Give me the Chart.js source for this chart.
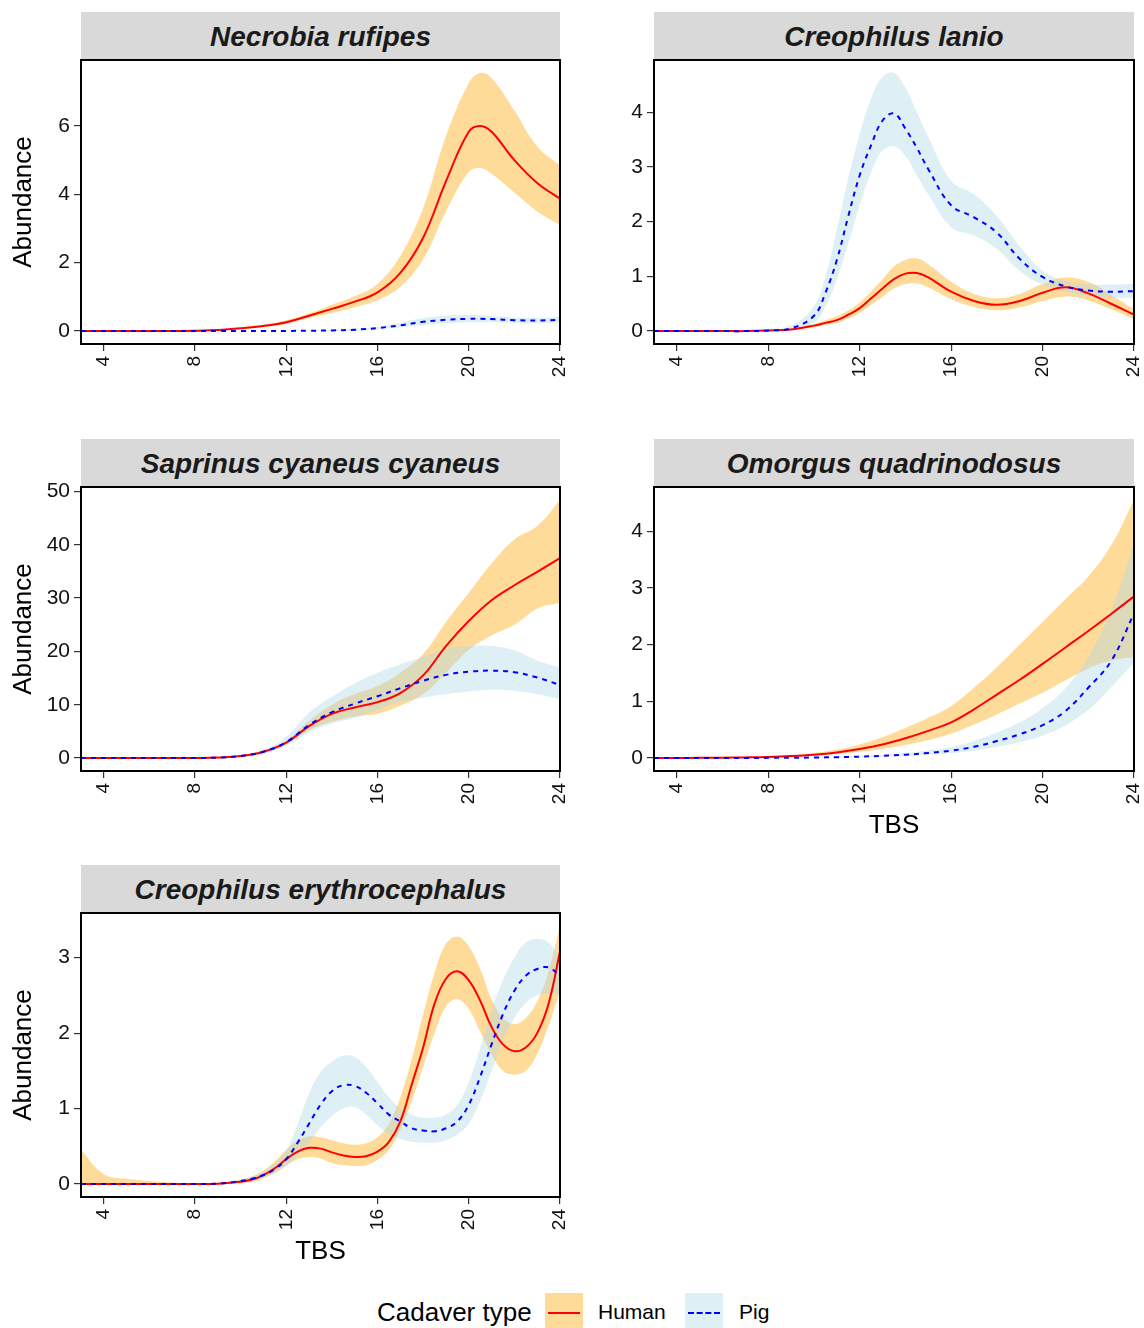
<!DOCTYPE html>
<html>
<head>
<meta charset="utf-8">
<script src="https://cdn.jsdelivr.net/npm/chart.js@4.4.1/dist/chart.umd.min.js"></script>
<style>
  body { margin: 0; background: #fff; font-family: "Liberation Sans", Arial, sans-serif; }
  #page { position: relative; width: 1144px; height: 1328px; overflow: hidden; background: #fff; }
  .strip { position: absolute; background: #d9d9d9; color: #1a1a1a; font-weight: bold; font-style: italic;
           font-size: 28px; display: flex; align-items: center; justify-content: center; padding-top: 2px; box-sizing: border-box; }
  .panel { position: absolute; }
  .lg-text { position: absolute; color: #000; white-space: nowrap; }
  .lg-key { position: absolute; width: 38px; height: 40px; }
  .lg-key span { position: absolute; left: 3px; right: 3px; top: 19px; height: 0; }
</style>
</head>
<body>
<div id="page"></div>
<script>
// shared axis ticks
const xTicks = [4, 8, 12, 16, 20, 24];

// Necrobia rufipes
const necrobiaX = [3,4,5,6,7,8,9,10,11,12,13,14,15,16,17,18,19,20,20.5,21,22,23,24];
const necrobiaHuman = [0,0,0,0,0.005,0.01,0.03,0.08,0.15,0.26,0.45,0.65,0.86,1.13,1.7,2.73,4.38,5.83,6.0,5.83,5.0,4.33,3.87];
const necrobiaHumanHi = [0,0,0,0,0.005,0.015,0.04,0.1,0.19,0.32,0.52,0.77,1.02,1.38,2.2,3.6,5.7,7.25,7.55,7.4,6.45,5.4,4.85];
const necrobiaHumanLo = [0,0,0,0,0.005,0.008,0.02,0.06,0.12,0.21,0.38,0.53,0.7,0.9,1.3,2.1,3.5,4.65,4.77,4.6,4.05,3.5,3.1];
const necrobiaPig = [0,0,0,0,0,0,0,0,0,0.005,0.01,0.02,0.04,0.09,0.17,0.27,0.33,0.36,0.36,0.35,0.32,0.31,0.33];
const necrobiaPigHi = [0,0,0,0,0,0,0,0,0,0.01,0.02,0.04,0.07,0.13,0.24,0.38,0.45,0.47,0.46,0.44,0.4,0.39,0.42];
const necrobiaPigLo = [0,0,0,0,0,0,0,0,0,0,0,0.005,0.02,0.05,0.11,0.18,0.23,0.26,0.26,0.26,0.24,0.23,0.25];
const necrobiaYTicks = [0, 2, 4, 6];

// Creophilus lanio
const lanioX = [3,4,5,6,7,8,9,10,10.5,11,11.5,12,12.5,13,13.5,14,14.5,15,16,17,18,19,20,21,22,23,24];
const lanioHuman = [0,0,0,0,0,0.01,0.03,0.1,0.15,0.2,0.3,0.42,0.6,0.78,0.95,1.05,1.06,0.98,0.72,0.55,0.48,0.55,0.7,0.8,0.69,0.5,0.3];
const lanioHumanHi = [0,0,0,0,0,0.015,0.04,0.13,0.2,0.27,0.38,0.52,0.73,0.95,1.18,1.3,1.33,1.22,0.9,0.68,0.6,0.68,0.86,0.98,0.9,0.66,0.4];
const lanioHumanLo = [0,0,0,0,0,0.005,0.02,0.07,0.11,0.15,0.23,0.33,0.48,0.63,0.78,0.86,0.87,0.8,0.58,0.44,0.38,0.43,0.55,0.63,0.56,0.4,0.22];
const lanioPig = [0,0,0,0,0,0.01,0.05,0.28,0.7,1.3,2.1,2.85,3.4,3.85,3.98,3.7,3.35,2.96,2.3,2.08,1.8,1.32,0.99,0.82,0.74,0.72,0.73];
const lanioPigHi = [0,0,0,0,0.005,0.02,0.1,0.45,1.0,1.85,2.8,3.6,4.25,4.65,4.72,4.45,4.0,3.55,2.75,2.5,2.1,1.55,1.1,0.92,0.85,0.85,0.86];
const lanioPigLo = [0,0,0,0,0,0.005,0.02,0.15,0.45,0.95,1.6,2.3,2.9,3.3,3.38,3.2,2.85,2.5,1.9,1.75,1.5,1.1,0.85,0.72,0.64,0.61,0.61];
const lanioYTicks = [0, 1, 2, 3, 4];

// Saprinus cyaneus cyaneus
const saprinusX = [3,4,5,6,7,8,9,10,11,12,13,14,15,16,17,18,19,20,21,22,23,24];
const saprinusHuman = [0,0,0,0,0,0.02,0.1,0.4,1.2,2.9,6,8.3,9.5,10.5,12.2,15.5,21,25.7,29.6,32.4,34.9,37.5];
const saprinusHumanHi = [0,0,0,0,0,0.03,0.15,0.5,1.4,3.3,7,10,12,13.5,16,19.5,25.5,31,36.5,41,43.5,48.4];
const saprinusHumanLo = [0,0,0,0,0,0.01,0.06,0.3,1.0,2.6,5.2,6.8,7.8,8.3,9.8,12,16,20.3,23,25,28,29.1];
const saprinusPig = [0,0,0,0,0,0.02,0.1,0.4,1.2,3.0,6.2,8.6,10.2,11.6,13.1,14.5,15.6,16.2,16.4,16.1,15.1,13.7];
const saprinusPigHi = [0,0,0,0,0,0.03,0.15,0.55,1.6,4.0,8.5,11.5,14,16,17.6,19,20.5,21,21,20.2,18.3,17];
const saprinusPigLo = [0,0,0,0,0,0.01,0.05,0.25,0.8,2.3,4.8,6.5,7.5,9,10.5,11.3,12,12.5,12.8,12.6,12,11];
const saprinusYTicks = [0, 10, 20, 30, 40, 50];

// Omorgus quadrinodosus
const omorgusX = [3,4,5,6,7,8,9,10,11,12,13,14,15,16,17,18,19,20,21,22,23,24];
const omorgusHuman = [0,0.002,0.004,0.007,0.012,0.02,0.035,0.06,0.1,0.16,0.24,0.35,0.48,0.63,0.86,1.12,1.38,1.66,1.95,2.24,2.54,2.85];
const omorgusHumanHi = [0,0.003,0.006,0.01,0.018,0.03,0.05,0.09,0.15,0.24,0.37,0.53,0.71,0.92,1.24,1.6,2.0,2.4,2.8,3.2,3.75,4.55];
const omorgusHumanLo = [0,0.001,0.002,0.004,0.007,0.012,0.022,0.04,0.07,0.11,0.16,0.23,0.32,0.43,0.59,0.77,0.96,1.15,1.37,1.58,1.72,1.78];
const omorgusPig = [0,0,0,0,0.002,0.004,0.006,0.01,0.016,0.025,0.04,0.06,0.09,0.13,0.2,0.3,0.42,0.58,0.83,1.24,1.71,2.55];
const omorgusPigHi = [0,0,0,0,0.003,0.006,0.01,0.016,0.025,0.04,0.06,0.09,0.14,0.19,0.3,0.45,0.63,0.88,1.23,1.78,2.6,3.8];
const omorgusPigLo = [0,0,0,0,0.001,0.002,0.003,0.005,0.009,0.015,0.025,0.04,0.06,0.09,0.13,0.2,0.28,0.4,0.58,0.85,1.25,1.68];
const omorgusYTicks = [0, 1, 2, 3, 4];

// Creophilus erythrocephalus
const erythroX = [3,4,5,6,7,8,9,10,10.5,11,11.5,12,12.5,13,13.5,14,14.5,15,15.5,16,16.5,17,17.5,18,18.5,19,19.5,20,20.5,21,21.5,22,22.5,23,23.5,24];
const erythroHuman = [0,0,0,0,0,0,0.005,0.03,0.06,0.12,0.21,0.33,0.43,0.48,0.47,0.42,0.38,0.36,0.37,0.43,0.56,0.83,1.32,1.81,2.39,2.72,2.82,2.7,2.43,2.08,1.85,1.76,1.81,2.0,2.39,3.08];
const erythroHumanHi = [0.45,0.13,0.07,0.04,0.02,0.012,0.01,0.06,0.1,0.18,0.3,0.45,0.58,0.63,0.62,0.58,0.54,0.52,0.54,0.62,0.8,1.15,1.65,2.25,2.8,3.18,3.28,3.15,2.85,2.45,2.2,2.12,2.2,2.42,2.82,3.42];
const erythroHumanLo = [0,0,0,0,0,0,0,0.01,0.03,0.08,0.15,0.25,0.33,0.36,0.34,0.28,0.25,0.24,0.25,0.32,0.45,0.72,1.1,1.55,2.0,2.35,2.45,2.32,2.02,1.72,1.5,1.45,1.5,1.72,2.1,2.55];
const erythroPig = [0,0,0,0,0,0,0.005,0.04,0.07,0.12,0.2,0.33,0.55,0.8,1.05,1.23,1.31,1.3,1.21,1.07,0.92,0.83,0.74,0.71,0.7,0.74,0.83,1.05,1.42,1.85,2.25,2.56,2.76,2.85,2.87,2.76];
const erythroPigHi = [0,0,0,0,0,0,0.01,0.06,0.1,0.17,0.28,0.45,0.8,1.2,1.48,1.62,1.7,1.68,1.55,1.35,1.15,1.0,0.92,0.88,0.88,0.92,1.05,1.35,1.8,2.3,2.7,3.0,3.2,3.25,3.2,3.0];
const erythroPigLo = [0,0,0,0,0,0,0,0.02,0.04,0.08,0.14,0.24,0.38,0.55,0.75,0.9,1.0,1.02,0.92,0.78,0.66,0.6,0.56,0.55,0.55,0.58,0.66,0.8,1.1,1.5,1.9,2.2,2.4,2.5,2.52,2.5];
const erythroYTicks = [0, 1, 2, 3];

const HUMAN_LINE = "#ff0000";
const PIG_LINE = "#0000ff";
const HUMAN_FILL = "rgba(255,165,0,0.4)";
const PIG_FILL = "rgba(173,216,230,0.4)";
const FONT = "'Liberation Sans', Arial, sans-serif";

const page = document.getElementById("page");

const boxPlugin = {
  id: "panelBox",
  afterDatasetsDraw(chart) {
    const { ctx, chartArea: a } = chart;
    ctx.save();
    ctx.strokeStyle = "#000";
    ctx.lineWidth = 2;
    ctx.strokeRect(a.left, a.top, a.right - a.left, a.bottom - a.top);
    ctx.restore();
  },
};

const pts = (xs, ys) => xs.map((x, i) => ({ x: x, y: ys[i] }));

function addPanel(p) {
  // grey strip with the species name
  const strip = document.createElement("div");
  strip.className = "strip";
  strip.style.left = p.boxLeft + "px";
  strip.style.top = (p.boxTop - 48) + "px";
  strip.style.width = p.boxWidth + "px";
  strip.style.height = "47px";
  strip.textContent = p.title;
  page.appendChild(strip);

  const xh = p.xTitle ? 72 : 40;
  const canvas = document.createElement("canvas");
  canvas.className = "panel";
  canvas.width = 570;
  canvas.height = 10 + 284 + xh;
  canvas.style.left = p.canvasLeft + "px";
  canvas.style.top = (p.boxTop - 10) + "px";
  page.appendChild(canvas);

  const maxHi = Math.max(...p.humanHi, ...p.pigHi);
  const titleFont = { family: FONT, size: 26 };
  const grid = { display: true, drawOnChartArea: false, drawTicks: true, tickLength: 7, color: "#333", lineWidth: 1.2 };

  new Chart(canvas, {
    type: "line",
    data: {
      datasets: [
        { data: pts(p.x, p.pig), borderColor: PIG_LINE, borderWidth: 2, borderDash: [5, 5], fill: false },
        { data: pts(p.x, p.human), borderColor: HUMAN_LINE, borderWidth: 2, fill: false },
        { data: pts(p.x, p.pigHi), borderWidth: 0, backgroundColor: PIG_FILL, fill: 3 },
        { data: pts(p.x, p.pigLo), borderWidth: 0, fill: false },
        { data: pts(p.x, p.humanHi), borderWidth: 0, backgroundColor: HUMAN_FILL, fill: 5 },
        { data: pts(p.x, p.humanLo), borderWidth: 0, fill: false },
      ],
    },
    options: {
      responsive: false,
      animation: false,
      devicePixelRatio: 1,
      layout: { padding: { top: 10, right: 10, left: 0, bottom: 0 } },
      elements: { point: { radius: 0 }, line: { tension: 0.4 } },
      plugins: { legend: { display: false }, tooltip: { enabled: false } },
      scales: {
        x: {
          type: "linear",
          min: 3,
          max: 24,
          afterBuildTicks: (s) => { s.ticks = xTicks.map((v) => ({ value: v })); },
          afterFit: (s) => { s.height = xh; s.paddingLeft = 0; s.paddingRight = 0; },
          ticks: { minRotation: 90, maxRotation: 90, padding: 5, font: { family: FONT, size: 19 }, color: "#111" },
          grid: grid,
          border: { display: false },
          title: { display: !!p.xTitle, text: "TBS", font: titleFont, color: "#000", padding: { top: 0, bottom: 2 } },
        },
        y: {
          type: "linear",
          min: -0.05 * maxHi,
          max: 1.05 * maxHi,
          afterBuildTicks: (s) => { s.ticks = p.yTicks.map((v) => ({ value: v })); },
          afterFit: (s) => { s.width = p.yWidth; s.paddingTop = 0; s.paddingBottom = 0; },
          ticks: { padding: 4, font: { family: FONT, size: 21 }, color: "#111" },
          grid: grid,
          border: { display: false },
          title: { display: !!p.yTitle, text: "Abundance", font: titleFont, color: "#000", padding: { top: 8, bottom: 0 } },
        },
      },
    },
    plugins: [boxPlugin],
  });
}

const left = { canvasLeft: 0, yWidth: 81, boxLeft: 81, boxWidth: 479, yTitle: true };
const right = { canvasLeft: 574, yWidth: 80, boxLeft: 654, boxWidth: 480, yTitle: false };

addPanel({ ...left, boxTop: 60, title: "Necrobia rufipes", x: necrobiaX, human: necrobiaHuman, humanHi: necrobiaHumanHi, humanLo: necrobiaHumanLo, pig: necrobiaPig, pigHi: necrobiaPigHi, pigLo: necrobiaPigLo, yTicks: necrobiaYTicks });
addPanel({ ...right, boxTop: 60, title: "Creophilus lanio", x: lanioX, human: lanioHuman, humanHi: lanioHumanHi, humanLo: lanioHumanLo, pig: lanioPig, pigHi: lanioPigHi, pigLo: lanioPigLo, yTicks: lanioYTicks });
addPanel({ ...left, boxTop: 487, title: "Saprinus cyaneus cyaneus", x: saprinusX, human: saprinusHuman, humanHi: saprinusHumanHi, humanLo: saprinusHumanLo, pig: saprinusPig, pigHi: saprinusPigHi, pigLo: saprinusPigLo, yTicks: saprinusYTicks });
addPanel({ ...right, boxTop: 487, xTitle: true, title: "Omorgus quadrinodosus", x: omorgusX, human: omorgusHuman, humanHi: omorgusHumanHi, humanLo: omorgusHumanLo, pig: omorgusPig, pigHi: omorgusPigHi, pigLo: omorgusPigLo, yTicks: omorgusYTicks });
addPanel({ ...left, boxTop: 913, xTitle: true, title: "Creophilus erythrocephalus", x: erythroX, human: erythroHuman, humanHi: erythroHumanHi, humanLo: erythroHumanLo, pig: erythroPig, pigHi: erythroPigHi, pigLo: erythroPigLo, yTicks: erythroYTicks });

// legend
function lgText(txt, x, size) {
  const d = document.createElement("div");
  d.className = "lg-text";
  d.style.left = x + "px";
  d.style.top = (1313 - size * 0.6) + "px";
  d.style.fontSize = size + "px";
  d.textContent = txt;
  page.appendChild(d);
}
function lgKey(x, fill, line) {
  const d = document.createElement("div");
  d.className = "lg-key";
  d.style.left = x + "px";
  d.style.top = "1293px";
  d.style.background = fill;
  const s = document.createElement("span");
  s.style.borderTop = line;
  d.appendChild(s);
  page.appendChild(d);
}
lgText("Cadaver type", 377, 26);
lgKey(545, "rgb(255,219,153)", "2px solid " + HUMAN_LINE);
lgText("Human", 598, 21);
lgKey(685, "rgb(222,239,245)", "2px dashed " + PIG_LINE);
lgText("Pig", 739, 21);
</script>
</body>
</html>
